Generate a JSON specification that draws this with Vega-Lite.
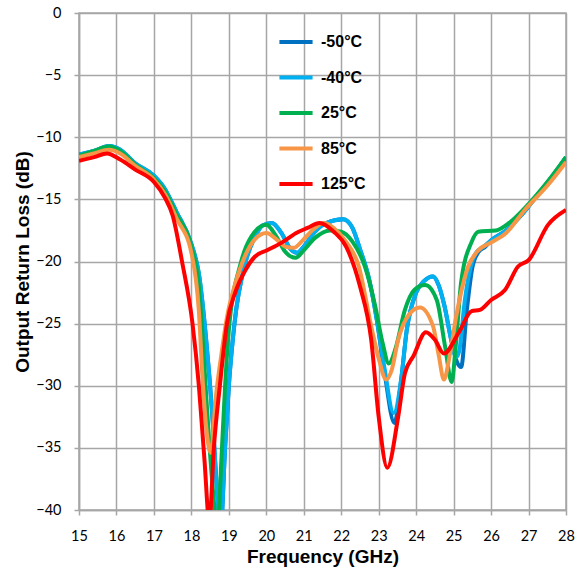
{
  "$schema": "https://vega.github.io/schema/vega-lite/v6.json",
  "autosize": "none",
  "padding": {"left": 79, "top": 13, "right": 21, "bottom": 63},
  "width": 487,
  "height": 497,
  "background": "white",
  "config": {
    "view": {"stroke": "#a6a6a6", "strokeWidth": 1.5},
    "axis": {
      "gridColor": "#a6a6a6", "gridWidth": 1.5, "gridOpacity": 1,
      "domainColor": "#a6a6a6", "domainWidth": 1.5,
      "tickColor": "#a6a6a6", "tickWidth": 1.5, "tickSize": 5,
      "labelFont": "Lato", "labelFontSize": 14.5, "labelColor": "#000000", "labelFlush": false,
      "titleFont": "Liberation Sans", "titleFontSize": 19, "titleFontWeight": "bold", "titleColor": "#000000"
    },
    "legend": {
      "labelFont": "Liberation Sans", "labelFontSize": 16, "labelFontWeight": "bold", "labelColor": "#000000"
    }
  },
  "data": {
    "values": [
      {"f": 15.0, "rl": -11.4, "T": "-50°C"}, {"f": 15.4, "rl": -11.1, "T": "-50°C"}, {"f": 15.8, "rl": -10.7, "T": "-50°C"}, {"f": 16.1, "rl": -11.0, "T": "-50°C"}, {"f": 16.5, "rl": -12.1, "T": "-50°C"}, {"f": 17.0, "rl": -13.1, "T": "-50°C"}, {"f": 17.3, "rl": -14.2, "T": "-50°C"}, {"f": 17.6, "rl": -16.0, "T": "-50°C"}, {"f": 18.0, "rl": -18.6, "T": "-50°C"}, {"f": 18.2, "rl": -21.0, "T": "-50°C"}, {"f": 18.4, "rl": -26.5, "T": "-50°C"}, {"f": 18.55, "rl": -32.0, "T": "-50°C"}, {"f": 18.7, "rl": -39.0, "T": "-50°C"}, {"f": 18.78, "rl": -41.5, "T": "-50°C"}, {"f": 18.9, "rl": -35.0, "T": "-50°C"}, {"f": 19.0, "rl": -30.0, "T": "-50°C"}, {"f": 19.15, "rl": -25.0, "T": "-50°C"}, {"f": 19.45, "rl": -20.0, "T": "-50°C"}, {"f": 19.7, "rl": -18.0, "T": "-50°C"}, {"f": 19.9, "rl": -17.1, "T": "-50°C"}, {"f": 20.15, "rl": -16.9, "T": "-50°C"}, {"f": 20.4, "rl": -17.7, "T": "-50°C"}, {"f": 20.65, "rl": -19.0, "T": "-50°C"}, {"f": 20.82, "rl": -19.3, "T": "-50°C"}, {"f": 21.0, "rl": -18.8, "T": "-50°C"}, {"f": 21.3, "rl": -17.6, "T": "-50°C"}, {"f": 21.6, "rl": -16.9, "T": "-50°C"}, {"f": 22.05, "rl": -16.6, "T": "-50°C"}, {"f": 22.3, "rl": -17.3, "T": "-50°C"}, {"f": 22.5, "rl": -19.0, "T": "-50°C"}, {"f": 22.75, "rl": -21.5, "T": "-50°C"}, {"f": 22.95, "rl": -24.7, "T": "-50°C"}, {"f": 23.15, "rl": -28.8, "T": "-50°C"}, {"f": 23.42, "rl": -33.0, "T": "-50°C"}, {"f": 23.6, "rl": -29.5, "T": "-50°C"}, {"f": 23.75, "rl": -25.5, "T": "-50°C"}, {"f": 24.0, "rl": -22.5, "T": "-50°C"}, {"f": 24.2, "rl": -21.6, "T": "-50°C"}, {"f": 24.45, "rl": -21.2, "T": "-50°C"}, {"f": 24.6, "rl": -21.9, "T": "-50°C"}, {"f": 24.75, "rl": -23.5, "T": "-50°C"}, {"f": 24.95, "rl": -26.5, "T": "-50°C"}, {"f": 25.08, "rl": -28.0, "T": "-50°C"}, {"f": 25.2, "rl": -28.5, "T": "-50°C"}, {"f": 25.35, "rl": -24.0, "T": "-50°C"}, {"f": 25.5, "rl": -20.5, "T": "-50°C"}, {"f": 25.65, "rl": -19.3, "T": "-50°C"}, {"f": 25.85, "rl": -18.8, "T": "-50°C"}, {"f": 26.0, "rl": -18.3, "T": "-50°C"}, {"f": 26.4, "rl": -17.5, "T": "-50°C"}, {"f": 26.8, "rl": -16.3, "T": "-50°C"}, {"f": 27.2, "rl": -14.8, "T": "-50°C"}, {"f": 27.6, "rl": -13.3, "T": "-50°C"}, {"f": 28.0, "rl": -11.6, "T": "-50°C"},

      {"f": 15.0, "rl": -11.4, "T": "-40°C"}, {"f": 15.4, "rl": -11.1, "T": "-40°C"}, {"f": 15.8, "rl": -10.7, "T": "-40°C"}, {"f": 16.1, "rl": -11.0, "T": "-40°C"}, {"f": 16.5, "rl": -12.1, "T": "-40°C"}, {"f": 17.0, "rl": -13.1, "T": "-40°C"}, {"f": 17.3, "rl": -14.2, "T": "-40°C"}, {"f": 17.6, "rl": -16.0, "T": "-40°C"}, {"f": 18.0, "rl": -18.6, "T": "-40°C"}, {"f": 18.2, "rl": -21.0, "T": "-40°C"}, {"f": 18.4, "rl": -26.5, "T": "-40°C"}, {"f": 18.55, "rl": -32.0, "T": "-40°C"}, {"f": 18.7, "rl": -39.0, "T": "-40°C"}, {"f": 18.78, "rl": -41.5, "T": "-40°C"}, {"f": 18.9, "rl": -35.0, "T": "-40°C"}, {"f": 19.0, "rl": -30.0, "T": "-40°C"}, {"f": 19.15, "rl": -25.0, "T": "-40°C"}, {"f": 19.45, "rl": -20.0, "T": "-40°C"}, {"f": 19.7, "rl": -18.0, "T": "-40°C"}, {"f": 19.9, "rl": -17.1, "T": "-40°C"}, {"f": 20.15, "rl": -16.9, "T": "-40°C"}, {"f": 20.4, "rl": -17.7, "T": "-40°C"}, {"f": 20.65, "rl": -19.0, "T": "-40°C"}, {"f": 20.82, "rl": -19.3, "T": "-40°C"}, {"f": 21.0, "rl": -18.8, "T": "-40°C"}, {"f": 21.3, "rl": -17.6, "T": "-40°C"}, {"f": 21.6, "rl": -16.9, "T": "-40°C"}, {"f": 22.05, "rl": -16.6, "T": "-40°C"}, {"f": 22.3, "rl": -17.3, "T": "-40°C"}, {"f": 22.5, "rl": -19.0, "T": "-40°C"}, {"f": 22.75, "rl": -21.5, "T": "-40°C"}, {"f": 22.95, "rl": -24.7, "T": "-40°C"}, {"f": 23.15, "rl": -28.5, "T": "-40°C"}, {"f": 23.4, "rl": -32.2, "T": "-40°C"}, {"f": 23.6, "rl": -29.5, "T": "-40°C"}, {"f": 23.75, "rl": -25.5, "T": "-40°C"}, {"f": 24.0, "rl": -22.5, "T": "-40°C"}, {"f": 24.2, "rl": -21.6, "T": "-40°C"}, {"f": 24.45, "rl": -21.2, "T": "-40°C"}, {"f": 24.6, "rl": -21.9, "T": "-40°C"}, {"f": 24.75, "rl": -23.5, "T": "-40°C"}, {"f": 24.95, "rl": -26.5, "T": "-40°C"}, {"f": 25.07, "rl": -27.7, "T": "-40°C"}, {"f": 25.15, "rl": -27.2, "T": "-40°C"}, {"f": 25.3, "rl": -23.1, "T": "-40°C"}, {"f": 25.45, "rl": -20.5, "T": "-40°C"}, {"f": 25.6, "rl": -19.3, "T": "-40°C"}, {"f": 25.8, "rl": -18.8, "T": "-40°C"}, {"f": 26.0, "rl": -18.3, "T": "-40°C"}, {"f": 26.4, "rl": -17.5, "T": "-40°C"}, {"f": 26.8, "rl": -16.3, "T": "-40°C"}, {"f": 27.2, "rl": -14.8, "T": "-40°C"}, {"f": 27.6, "rl": -13.3, "T": "-40°C"}, {"f": 28.0, "rl": -11.6, "T": "-40°C"},

      {"f": 15.0, "rl": -11.5, "T": "25°C"}, {"f": 15.4, "rl": -11.1, "T": "25°C"}, {"f": 15.8, "rl": -10.75, "T": "25°C"}, {"f": 16.1, "rl": -11.1, "T": "25°C"}, {"f": 16.5, "rl": -12.2, "T": "25°C"}, {"f": 17.0, "rl": -13.3, "T": "25°C"}, {"f": 17.3, "rl": -14.4, "T": "25°C"}, {"f": 17.6, "rl": -16.2, "T": "25°C"}, {"f": 18.0, "rl": -18.8, "T": "25°C"}, {"f": 18.2, "rl": -22.0, "T": "25°C"}, {"f": 18.3, "rl": -26.0, "T": "25°C"}, {"f": 18.4, "rl": -31.0, "T": "25°C"}, {"f": 18.55, "rl": -37.5, "T": "25°C"}, {"f": 18.7, "rl": -41.5, "T": "25°C"}, {"f": 18.8, "rl": -36.0, "T": "25°C"}, {"f": 18.9, "rl": -30.0, "T": "25°C"}, {"f": 19.0, "rl": -25.5, "T": "25°C"}, {"f": 19.33, "rl": -20.0, "T": "25°C"}, {"f": 19.6, "rl": -18.0, "T": "25°C"}, {"f": 20.0, "rl": -17.05, "T": "25°C"}, {"f": 20.25, "rl": -17.9, "T": "25°C"}, {"f": 20.5, "rl": -19.2, "T": "25°C"}, {"f": 20.78, "rl": -19.7, "T": "25°C"}, {"f": 21.0, "rl": -19.1, "T": "25°C"}, {"f": 21.3, "rl": -18.1, "T": "25°C"}, {"f": 21.7, "rl": -17.5, "T": "25°C"}, {"f": 22.0, "rl": -17.6, "T": "25°C"}, {"f": 22.3, "rl": -18.4, "T": "25°C"}, {"f": 22.63, "rl": -20.4, "T": "25°C"}, {"f": 22.9, "rl": -23.5, "T": "25°C"}, {"f": 23.1, "rl": -26.5, "T": "25°C"}, {"f": 23.27, "rl": -28.2, "T": "25°C"}, {"f": 23.45, "rl": -27.0, "T": "25°C"}, {"f": 23.7, "rl": -23.9, "T": "25°C"}, {"f": 23.95, "rl": -22.3, "T": "25°C"}, {"f": 24.24, "rl": -21.9, "T": "25°C"}, {"f": 24.55, "rl": -23.1, "T": "25°C"}, {"f": 24.77, "rl": -26.8, "T": "25°C"}, {"f": 24.95, "rl": -29.7, "T": "25°C"}, {"f": 25.05, "rl": -27.0, "T": "25°C"}, {"f": 25.2, "rl": -21.7, "T": "25°C"}, {"f": 25.47, "rl": -18.5, "T": "25°C"}, {"f": 25.66, "rl": -17.6, "T": "25°C"}, {"f": 26.13, "rl": -17.5, "T": "25°C"}, {"f": 26.48, "rl": -16.9, "T": "25°C"}, {"f": 26.93, "rl": -15.6, "T": "25°C"}, {"f": 27.5, "rl": -13.6, "T": "25°C"}, {"f": 28.0, "rl": -11.6, "T": "25°C"},

      {"f": 15.0, "rl": -11.6, "T": "85°C"}, {"f": 15.4, "rl": -11.3, "T": "85°C"}, {"f": 15.8, "rl": -11.0, "T": "85°C"}, {"f": 16.1, "rl": -11.3, "T": "85°C"}, {"f": 16.5, "rl": -12.3, "T": "85°C"}, {"f": 17.0, "rl": -13.4, "T": "85°C"}, {"f": 17.3, "rl": -14.6, "T": "85°C"}, {"f": 17.6, "rl": -16.5, "T": "85°C"}, {"f": 18.0, "rl": -19.3, "T": "85°C"}, {"f": 18.2, "rl": -24.0, "T": "85°C"}, {"f": 18.3, "rl": -29.5, "T": "85°C"}, {"f": 18.42, "rl": -34.0, "T": "85°C"}, {"f": 18.52, "rl": -35.4, "T": "85°C"}, {"f": 18.65, "rl": -31.0, "T": "85°C"}, {"f": 18.8, "rl": -27.5, "T": "85°C"}, {"f": 18.95, "rl": -24.5, "T": "85°C"}, {"f": 19.15, "rl": -22.0, "T": "85°C"}, {"f": 19.37, "rl": -20.0, "T": "85°C"}, {"f": 19.7, "rl": -18.2, "T": "85°C"}, {"f": 20.0, "rl": -17.7, "T": "85°C"}, {"f": 20.3, "rl": -18.3, "T": "85°C"}, {"f": 20.5, "rl": -18.8, "T": "85°C"}, {"f": 20.73, "rl": -18.9, "T": "85°C"}, {"f": 21.0, "rl": -18.2, "T": "85°C"}, {"f": 21.3, "rl": -17.3, "T": "85°C"}, {"f": 21.53, "rl": -16.9, "T": "85°C"}, {"f": 21.8, "rl": -17.3, "T": "85°C"}, {"f": 22.1, "rl": -18.3, "T": "85°C"}, {"f": 22.47, "rl": -20.4, "T": "85°C"}, {"f": 22.8, "rl": -25.2, "T": "85°C"}, {"f": 23.0, "rl": -27.8, "T": "85°C"}, {"f": 23.2, "rl": -29.5, "T": "85°C"}, {"f": 23.35, "rl": -28.7, "T": "85°C"}, {"f": 23.52, "rl": -26.3, "T": "85°C"}, {"f": 23.8, "rl": -24.3, "T": "85°C"}, {"f": 24.1, "rl": -23.7, "T": "85°C"}, {"f": 24.45, "rl": -25.2, "T": "85°C"}, {"f": 24.6, "rl": -27.5, "T": "85°C"}, {"f": 24.74, "rl": -29.5, "T": "85°C"}, {"f": 24.9, "rl": -27.5, "T": "85°C"}, {"f": 25.07, "rl": -24.4, "T": "85°C"}, {"f": 25.39, "rl": -20.4, "T": "85°C"}, {"f": 25.66, "rl": -19.1, "T": "85°C"}, {"f": 25.98, "rl": -18.5, "T": "85°C"}, {"f": 26.4, "rl": -17.7, "T": "85°C"}, {"f": 26.9, "rl": -15.85, "T": "85°C"}, {"f": 27.5, "rl": -13.9, "T": "85°C"}, {"f": 28.0, "rl": -12.0, "T": "85°C"},

      {"f": 15.0, "rl": -11.9, "T": "125°C"}, {"f": 15.4, "rl": -11.6, "T": "125°C"}, {"f": 15.75, "rl": -11.3, "T": "125°C"}, {"f": 16.1, "rl": -11.8, "T": "125°C"}, {"f": 16.5, "rl": -12.6, "T": "125°C"}, {"f": 17.0, "rl": -13.6, "T": "125°C"}, {"f": 17.3, "rl": -14.9, "T": "125°C"}, {"f": 17.5, "rl": -16.3, "T": "125°C"}, {"f": 17.75, "rl": -20.0, "T": "125°C"}, {"f": 18.03, "rl": -25.0, "T": "125°C"}, {"f": 18.2, "rl": -30.0, "T": "125°C"}, {"f": 18.35, "rl": -36.0, "T": "125°C"}, {"f": 18.48, "rl": -41.0, "T": "125°C"}, {"f": 18.6, "rl": -35.0, "T": "125°C"}, {"f": 18.76, "rl": -30.0, "T": "125°C"}, {"f": 18.95, "rl": -25.0, "T": "125°C"}, {"f": 19.17, "rl": -22.5, "T": "125°C"}, {"f": 19.44, "rl": -20.7, "T": "125°C"}, {"f": 19.7, "rl": -19.6, "T": "125°C"}, {"f": 20.02, "rl": -19.1, "T": "125°C"}, {"f": 20.4, "rl": -18.5, "T": "125°C"}, {"f": 20.8, "rl": -17.7, "T": "125°C"}, {"f": 21.1, "rl": -17.3, "T": "125°C"}, {"f": 21.42, "rl": -16.9, "T": "125°C"}, {"f": 21.8, "rl": -17.6, "T": "125°C"}, {"f": 22.13, "rl": -18.8, "T": "125°C"}, {"f": 22.5, "rl": -22.0, "T": "125°C"}, {"f": 22.8, "rl": -26.3, "T": "125°C"}, {"f": 23.0, "rl": -32.5, "T": "125°C"}, {"f": 23.23, "rl": -36.6, "T": "125°C"}, {"f": 23.52, "rl": -32.5, "T": "125°C"}, {"f": 23.7, "rl": -29.0, "T": "125°C"}, {"f": 23.93, "rl": -27.6, "T": "125°C"}, {"f": 24.26, "rl": -25.7, "T": "125°C"}, {"f": 24.5, "rl": -26.3, "T": "125°C"}, {"f": 24.74, "rl": -27.4, "T": "125°C"}, {"f": 25.14, "rl": -25.7, "T": "125°C"}, {"f": 25.48, "rl": -24.0, "T": "125°C"}, {"f": 25.7, "rl": -23.9, "T": "125°C"}, {"f": 26.0, "rl": -23.1, "T": "125°C"}, {"f": 26.37, "rl": -22.3, "T": "125°C"}, {"f": 26.72, "rl": -20.4, "T": "125°C"}, {"f": 27.0, "rl": -19.9, "T": "125°C"}, {"f": 27.52, "rl": -17.05, "T": "125°C"}, {"f": 28.0, "rl": -15.85, "T": "125°C"}
    ]
  },
  "mark": {"type": "line", "strokeWidth": 4, "interpolate": "monotone", "clip": true},
  "encoding": {
    "x": {
      "field": "f", "type": "quantitative", "title": "Frequency (GHz)",
      "scale": {"domain": [15, 28], "nice": false, "zero": false},
      "axis": {"values": [15,16,17,18,19,20,21,22,23,24,25,26,27,28], "labelPadding": 14, "titlePadding": 5}
    },
    "y": {
      "field": "rl", "type": "quantitative", "title": "Output Return Loss (dB)",
      "scale": {"domain": [-40, 0], "nice": false, "zero": false},
      "axis": {"values": [-40,-35,-30,-25,-20,-15,-10,-5,0], "labelPadding": 13, "titlePadding": 3}
    },
    "color": {
      "field": "T", "type": "nominal",
      "scale": {"domain": ["-50°C", "-40°C", "25°C", "85°C", "125°C"], "range": ["#0070C0", "#00B0F0", "#00B050", "#F79646", "#FF0000"]},
      "legend": {"title": null, "orient": "none", "legendX": 198, "legendY": 10, "symbolType": "stroke", "symbolSize": 1100, "symbolStrokeWidth": 4, "rowPadding": 8.5, "labelOffset": 6, "padding": 0}
    },
    "order": {"field": "f", "type": "quantitative"}
  }
}
